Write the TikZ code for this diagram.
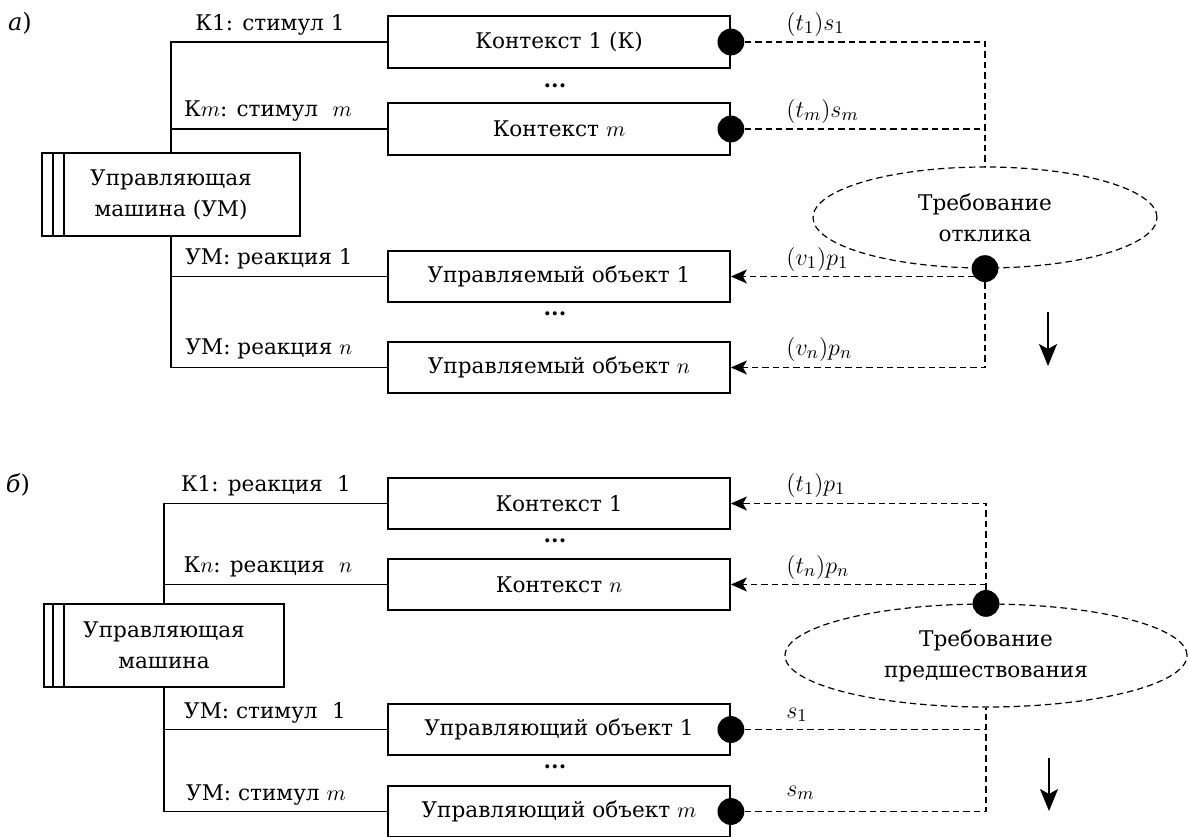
\documentclass[tikz,border=0pt]{standalone}
\usepackage{fontspec}
\setmainfont{DejaVu Serif}
\usetikzlibrary{shapes.geometric,arrows.meta,calc}

\begin{document}
\begin{tikzpicture}[x=0.5pt,y=-0.5pt,
  font=\fontsize{10.8}{15.5}\selectfont,
  box/.style={draw,line width=0.9pt,minimum width=171pt,minimum height=25.75pt,inner sep=0pt},
  ctrl/.style={draw,line width=0.9pt,minimum height=41.5pt,align=center,inner sep=0pt},
  req/.style={draw,ellipse,line width=0.6pt,dash pattern=on 3.2pt off 2pt,align=center,inner sep=0pt},
  blob/.style={circle,fill=black,minimum size=13.4pt,inner sep=0pt},
  lbl/.style={inner sep=0pt},
  mlbl/.style={inner sep=0pt,anchor=west,font=\fontsize{12.5}{15}\selectfont},
  link/.style={line width=0.8pt},
  dsh/.style={line width=0.6pt,dash pattern=on 3.2pt off 2pt},
  dsharrow/.style={dsh,-{Stealth[length=8pt,width=7pt,inset=2pt]}},
  timeflow/.style={line width=0.9pt,-{Stealth[length=11pt,width=9pt,inset=2.5pt]}}
]
\useasboundingbox (0,0) rectangle (1188,836);
\clip (0,0) rectangle (1188,836);

% ---------- part (a): response requirement ----------
\node[lbl,font=\fontsize{12}{14}\selectfont] (taga) at (20,23) {\textit{а})};

\node[box] (ctx1) at (559,42) {Контекст 1 (К)};
\node[box] (ctxm) at (559,129) {Контекст $m$};
\node[box] (obj1) at (559,276.5) {Управляемый объект 1};
\node[box] (objn) at (559,367.5) {Управляемый объект $n$};
\node[lbl] (dotsa1) at (555,86) {\textbf{...}};
\node[lbl] (dotsa2) at (555,314) {\textbf{...}};

\node[ctrl,minimum width=129pt] (uma) at (171,194.5) {Управляющая\\машина (УМ)};
\draw[link] ($(uma.north west)+(12,0)$) -- ($(uma.south west)+(12,0)$);
\draw[link] ($(uma.north west)+(23,0)$) -- ($(uma.south west)+(23,0)$);

\draw[link] (ctx1.west) -| (uma.north);
\draw[link] (ctxm.west) -| (uma.north);
\draw[link] (objn.west) -| (uma.south);
\draw[link] (obj1.west) -- (uma.south |- obj1.west);

\node[lbl] (la1) at (270,25) {К1: стимул 1};
\node[lbl] (la2) at (268,111) {К$m$: стимул\hspace{0.35em} $m$};
\node[lbl] (la3) at (269,259) {УМ: реакция 1};
\node[lbl] (la4) at (269,349) {УМ: реакция $n$};

\node[req,minimum width=172pt,minimum height=50.5pt] (reqa) at (985,217.5) {Требование\\отклика};

\node[blob] (sa1) at (ctx1.east) {};
\node[blob] (sam) at (ctxm.east) {};
\node[blob] (ra) at (reqa.south) {};

\draw[dsh] (sa1) -| (reqa.north);
\draw[dsh] (sam) -- (reqa.north |- sam);
\draw[dsharrow] (ra) |- (objn.east);
\draw[dsharrow] (ra.center |- obj1.east) -- (obj1.east);

\node[mlbl] (ra1) at (786,24) {$(t_1)s_1$};
\node[mlbl] (ra2) at (786,111) {$(t_m)s_m$};
\node[mlbl] (ra3) at (786,259) {$(v_1)p_1$};
\node[mlbl] (ra4) at (786,349) {$(v_n)p_n$};

\coordinate (ta0) at (1048,312);
\coordinate (ta1) at (1048,366);
\draw[timeflow] (ta0) -- (ta1);

% ---------- part (b): precedence requirement ----------
\node[lbl,font=\fontsize{12}{14}\selectfont] (tagb) at (18,485) {\textit{б})};

\node[box] (c1) at (559,503.5) {Контекст 1};
\node[box] (cn) at (559,584.5) {Контекст $n$};
\node[box] (uo1) at (559,729.5) {Управляющий объект 1};
\node[box] (uom) at (559,811.5) {Управляющий объект $m$};
\node[lbl] (dotsb1) at (555,541) {\textbf{...}};
\node[lbl] (dotsb2) at (555,767) {\textbf{...}};

\node[ctrl,minimum width=120pt] (umb) at (164,645.5) {Управляющая\\машина};
\draw[link] ($(umb.north west)+(10,0)$) -- ($(umb.south west)+(10,0)$);
\draw[link] ($(umb.north west)+(21,0)$) -- ($(umb.south west)+(21,0)$);

\draw[link] (c1.west) -| (umb.north);
\draw[link] (cn.west) -| (umb.north);
\draw[link] (uom.west) -| (umb.south);
\draw[link] (uo1.west) -- (umb.south |- uo1.west);

\node[lbl] (lb1) at (266,486) {К1: реакция\hspace{0.35em} 1};
\node[lbl] (lb2) at (268,567) {К$n$: реакция\hspace{0.35em} $n$};
\node[lbl] (lb3) at (265,713) {УМ: стимул\hspace{0.35em} 1};
\node[lbl] (lb4) at (266,795) {УМ: стимул $m$};

\node[req,minimum width=201pt,minimum height=51.5pt] (reqb) at (986,655.5) {Требование\\предшествования};

\node[blob] (rb) at (reqb.north) {};
\node[blob] (sb1) at (uo1.east) {};
\node[blob] (sbm) at (uom.east) {};

\draw[dsharrow] (rb) |- (c1.east);
\draw[dsharrow] (rb.center |- cn.east) -- (cn.east);
\draw[dsh] (sbm) -| (reqb.south);
\draw[dsh] (sb1) -- (reqb.south |- sb1);

\node[mlbl] (rb1) at (786,485) {$(t_1)p_1$};
\node[mlbl] (rb2) at (786,567) {$(t_n)p_n$};
\node[mlbl] (rb3) at (786,715) {$s_1$};
\node[mlbl] (rb4) at (786,793) {$s_m$};

\coordinate (tb0) at (1049,758);
\coordinate (tb1) at (1049,811);
\draw[timeflow] (tb0) -- (tb1);
\end{tikzpicture}
\end{document}
